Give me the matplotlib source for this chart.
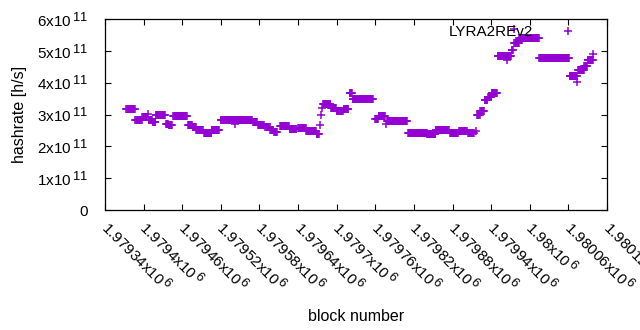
import numpy as np
import matplotlib
matplotlib.use("Agg")
import matplotlib.pyplot as plt
import matplotlib._mathtext as mathtext_internals
from matplotlib.ticker import FixedLocator, FuncFormatter

plt.rcParams["font.family"] = ["Liberation Sans", "DejaVu Sans"]
plt.rcParams["mathtext.fontset"] = "custom"
plt.rcParams["mathtext.rm"] = "Liberation Sans"
plt.rcParams["mathtext.it"] = "Liberation Sans:italic"
# gnuplot's exponents are only a little smaller than the base text
mathtext_internals.SHRINK_FACTOR = 0.85

# runs of blocks with the same hashrate (first block, last block, value x1e11)
seg_start = [1979373, 1979387, 1979398, 1979408, 1979414, 1979419, 1979435,
             1979439, 1979446, 1979469, 1979476, 1979482, 1979494, 1979506,
             1979520, 1979570, 1979578, 1979589, 1979597, 1979603, 1979612,
             1979627, 1979640, 1979653, 1979669, 1979679, 1979691, 1979700,
             1979711, 1979720, 1979725, 1979760, 1979765, 1979778, 1979811,
             1979841, 1979854, 1979876, 1979890, 1979904, 1979918, 1979923,
             1979930, 1979935, 1979941, 1979950, 1979972, 1979976, 1979984,
             1980015, 1980062, 1980075, 1980085, 1980090]
seg_end = [1979386, 1979397, 1979405, 1979413, 1979418, 1979433, 1979438,
           1979444, 1979467, 1979475, 1979481, 1979492, 1979505, 1979517,
           1979568, 1979576, 1979587, 1979596, 1979601, 1979607, 1979626,
           1979637, 1979652, 1979668, 1979672, 1979690, 1979699, 1979710,
           1979718, 1979724, 1979756, 1979764, 1979775, 1979809, 1979840,
           1979853, 1979874, 1979888, 1979902, 1979913, 1979922, 1979929,
           1979934, 1979940, 1979949, 1979971, 1979974, 1979983, 1980014,
           1980061, 1980073, 1980084, 1980089, 1980098]
seg_value = [3.18, 2.83, 2.92, 2.82, 2.76, 2.99, 2.72,
             2.66, 2.95, 2.69, 2.60, 2.52, 2.41, 2.51,
             2.83, 2.78, 2.68, 2.60, 2.53, 2.45, 2.64,
             2.55, 2.59, 2.50, 2.38, 3.33, 3.22, 3.10,
             3.18, 3.67, 3.48, 2.86, 2.97, 2.80, 2.43,
             2.38, 2.52, 2.42, 2.50, 2.42, 3.00, 3.10,
             3.45, 3.55, 3.67, 4.83, 5.03, 5.25, 5.42,
             4.77, 4.22, 4.40, 4.53, 4.72]

# single blocks off the runs
one_block = [1979407, 1979542, 1979674, 1979675, 1979677, 1979777,
             1979916, 1979965, 1979976, 1980073, 1980099]
one_value = [3.02, 2.72, 2.69, 3.00, 3.22, 2.72,
             2.50, 4.72, 5.68, 4.03, 4.90]

x_ticks = np.arange(1979340, 1980121, 60)
y_ticks = [0, 1e11, 2e11, 3e11, 4e11, 5e11, 6e11]

blocks = []
rates = []
for s, e, v in zip(seg_start, seg_end, seg_value):
    b = np.arange(s, e + 1)
    blocks.extend(b)
    rates.extend([v * 1e11] * len(b))
blocks.extend(one_block)
rates.extend([v * 1e11 for v in one_value])

fig = plt.figure(figsize=(6.4, 3.3), dpi=100)
ax = fig.add_axes([105 / 640, 1 - 210 / 330, 502 / 640, 190.7 / 330])

purple = "#9400d3"
ax.plot(blocks, rates, linestyle="none", marker="+", color=purple,
        markersize=5.8, markeredgewidth=1.1, label="LYRA2REv2")

ax.set_xlim(x_ticks[0], x_ticks[-1])
ax.set_ylim(0, 6e11)


def yfmt(v, pos):
    if v == 0:
        return "0"
    return r"$\mathregular{%dx10^{\,11}}$" % round(v / 1e11)


def xfmt(v, pos):
    return r"$\mathregular{%sx10^{\,6}}$" % "{:g}".format(round(v) / 1e6)


ax.xaxis.set_major_locator(FixedLocator(x_ticks))
ax.yaxis.set_major_locator(FixedLocator(y_ticks))
ax.yaxis.set_major_formatter(FuncFormatter(yfmt))
ax.xaxis.set_major_formatter(FuncFormatter(xfmt))
ax.tick_params(direction="in", length=4, width=0.8, top=True, right=True,
               labelsize=11, colors="black")
ax.tick_params(axis="y", pad=12)
ax.tick_params(axis="x", pad=10)
for lab in ax.get_xticklabels():
    lab.set_rotation(-45)
    lab.set_ha("left")
    lab.set_va("center_baseline")
    lab.set_rotation_mode("anchor")
for lab in ax.get_yticklabels():
    lab.set_va("center_baseline")
for sp in ax.spines.values():
    sp.set_linewidth(0.9)

ax.set_xlabel("block number", fontsize=11.5)
ax.set_ylabel("hashrate [h/s]", fontsize=11.5)
ax.xaxis.set_label_coords(0.5, -0.52)
ax.yaxis.set_label_coords(-0.155, 0.5)

ax.legend(loc="center right", bbox_to_anchor=(0.953, 0.933), frameon=False,
          markerfirst=False, handlelength=2.0, handletextpad=1.3,
          borderpad=0, borderaxespad=0, fontsize=11)

fig.savefig("out.png", dpi=100)
